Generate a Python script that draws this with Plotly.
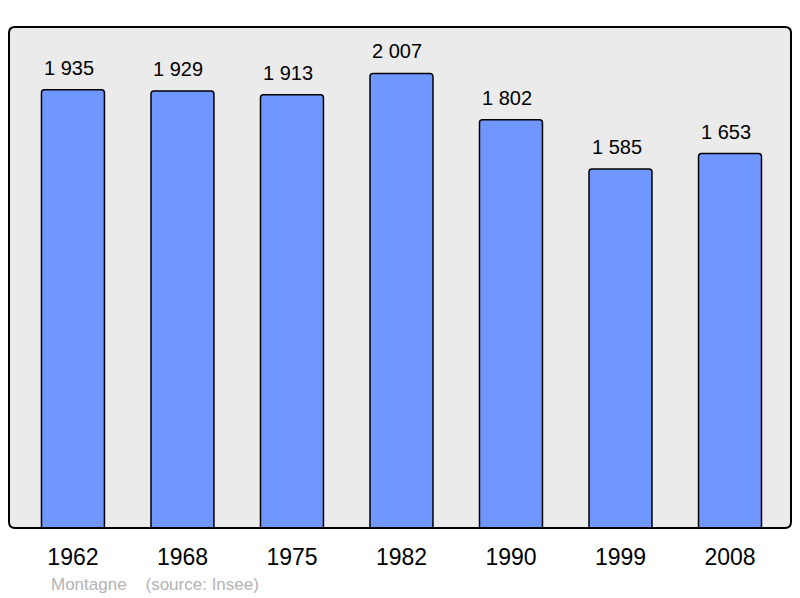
import plotly.graph_objects as go

years = ["1962", "1968", "1975", "1982", "1990", "1999", "2008"]
population = [1935, 1929, 1913, 2007, 1802, 1585, 1653]
source_name = "Montagne"
source_ref = "(source: Insee)"

def fmt(v):
    return f"{v:,}".replace(",", " ")

FONT = "Liberation Sans, Arial, sans-serif"
idx = list(range(len(years)))

fig = go.Figure()
fig.add_trace(go.Bar(
    x=idx, y=population, width=0.575,
    marker=dict(color="#7096ff", line=dict(color="black", width=1.5), cornerradius=3),
    hoverinfo="skip",
))
for i, v in zip(idx, population):
    fig.add_annotation(x=i, y=v, text=fmt(v), showarrow=False,
                       yanchor="bottom", yshift=9, xshift=-4,
                       font=dict(size=20, color="black", family=FONT))

fig.add_annotation(xref="paper", yref="paper", x=(49-9)/782, y=-(584-528)/501,
                   xanchor="left", yanchor="middle", showarrow=False,
                   text=source_name + "&nbsp;&nbsp;&nbsp;&nbsp;" + source_ref,
                   font=dict(size=17, color="#b3b3b3", family=FONT))

# rounded plot-area frame
W, H = 782, 501
rx, ry = 6 / W, 6 / H
path = (f"M {rx},0 L {1-rx},0 Q 1,0 1,{ry} L 1,{1-ry} Q 1,1 {1-rx},1 "
        f"L {rx},1 Q 0,1 0,{1-ry} L 0,{ry} Q 0,0 {rx},0 Z")
fig.add_shape(type="path", xref="paper", yref="paper", path=path,
              line=dict(color="black", width=2), layer="above")

fig.update_layout(
    width=800, height=598,
    margin=dict(l=9, r=9, t=27, b=70),
    paper_bgcolor="white", plot_bgcolor="#ebebeb",
    showlegend=False,
    font=dict(family=FONT, color="black"),
)
fig.update_xaxes(range=[-0.584, 6.557], showgrid=False, zeroline=False,
                 tickmode="array", tickvals=idx, ticktext=years,
                 showline=False, ticks="", tickfont=dict(size=23), ticklabelstandoff=13)
fig.update_yaxes(range=[0, 2212], showgrid=False, showticklabels=False,
                 zeroline=False, showline=False, ticks="")
fig.write_html("out.html", config={"displayModeBar": False},
               post_script="document.body.style.margin='0';document.body.style.overflow='hidden';")
